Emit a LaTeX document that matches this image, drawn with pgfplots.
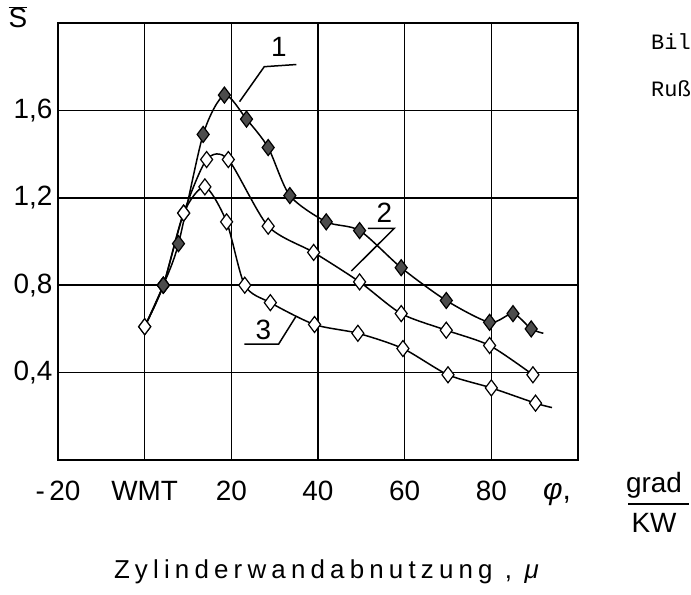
\documentclass[border=0pt]{standalone}
\usepackage{pgfplots}
\pgfplotsset{compat=1.18}
\usepackage{fontspec}
\setmainfont{Liberation Sans}
\newfontfamily\spaced[LetterSpace=20]{Liberation Sans}
\newfontfamily\mono{Liberation Mono}
\begin{document}
\begin{tikzpicture}
\path[use as bounding box] (0,0) rectangle (691bp,595bp);
\begin{axis}[
  at={(58bp,135bp)}, anchor=south west,
  scale only axis, width=520bp, height=437bp,
  xmin=-20, xmax=100, ymin=0, ymax=2,
  xtick={-20,0,20,40,60,80},
  xticklabels={{-\,20},WMT,20,40,60,80},
  ytick={0.4,0.8,1.2,1.6},
  yticklabels={{0,4},{0,8},{1,2},{1,6}},
  grid=major,
  major grid style={black, line width=1.5bp},
  axis line style={black, line width=2bp},
  major tick length=0pt,
  tick label style={font=\fontsize{28}{30}\selectfont},
  xticklabel style={yshift=-18bp},
  yticklabel style={xshift=-2bp},
  clip=false,
]
% curve 3
\addplot[black, line width=1.5bp, smooth, tension=0.45,
  mark=diamond*, mark size=8bp,
  mark options={fill=white, draw=black, line width=1.2bp},
  mark indices={1,2,3,4,5,6,7,8,9,10,11,12,13}]
coordinates {(0,0.61) (4.3,0.80) (9,1.13) (13.9,1.25) (18.9,1.09) (23.1,0.80) (29,0.72) (39.2,0.62) (49.2,0.58) (59.6,0.51) (70,0.39) (80,0.33) (90.2,0.26) (94,0.24)};
% curve 2
\addplot[black, line width=1.5bp, smooth, tension=0.45,
  mark=diamond*, mark size=8bp,
  mark options={fill=white, draw=black, line width=1.2bp}]
coordinates {(0,0.61) (4.3,0.80) (9,1.13) (14.3,1.375) (19.3,1.375) (28.5,1.07) (39,0.95) (49.6,0.815) (59.2,0.67) (69.6,0.594) (79.6,0.524) (89.6,0.39)};
% curve 1
\addplot[black, line width=1.5bp, smooth, tension=0.45,
  mark=diamond*, mark size=8bp,
  mark options={fill=black!70, draw=black, line width=1.2bp},
  mark indices={2,3,4,5,6,7,8,9,10,11,12,13,14,15}]
coordinates {(0,0.61) (4.3,0.80) (7.8,0.99) (13.5,1.49) (18.4,1.67) (23.5,1.56) (28.5,1.43) (33.5,1.21) (41.9,1.09) (49.6,1.05) (59.2,0.88) (69.6,0.73) (79.6,0.63) (85,0.67) (89.2,0.60) (92,0.58)};
% labels with leaders
\draw[line width=1.5bp] (axis cs:35,1.81) -- (axis cs:27.6,1.80) -- (axis cs:21.9,1.64);
\node[font=\fontsize{28}{30}\selectfont] at (axis cs:31,1.89) {1};
\draw[line width=1.5bp] (axis cs:51.5,1.06) -- (axis cs:57.6,1.06) -- (axis cs:47.7,0.865);
\node[font=\fontsize{28}{30}\selectfont] at (axis cs:55.3,1.13) {2};
\draw[line width=1.5bp] (axis cs:23,0.53) -- (axis cs:30.9,0.53) -- (axis cs:35,0.66);
\node[font=\fontsize{28}{30}\selectfont] at (axis cs:27.4,0.595) {3};
\end{axis}
% outer texts
\node[font=\fontsize{28}{30}\selectfont] at (18bp,578bp) {$\overline{\mbox{S}}$};
\node[font=\fontsize{30}{32}\selectfont] at (557bp,100bp) {\textit{φ},};
\node[font=\fontsize{28}{30}\selectfont] at (654bp,110bp) {grad};
\draw[line width=1.5bp] (628bp,91bp) -- (689bp,91bp);
\node[font=\fontsize{28}{30}\selectfont] at (654bp,72bp) {KW};
\node[font=\fontsize{26}{28}\selectfont\spaced] at (329bp,23bp) {Zylinderwandabnutzung , \textit{μ}};
\node[font=\fontsize{22}{24}\mono, anchor=base west, inner sep=0pt] at (651bp,545bp) {Bil};
\node[font=\fontsize{22}{24}\mono, anchor=base west, inner sep=0pt] at (651bp,498bp) {Ruß};
\end{tikzpicture}
\end{document}
